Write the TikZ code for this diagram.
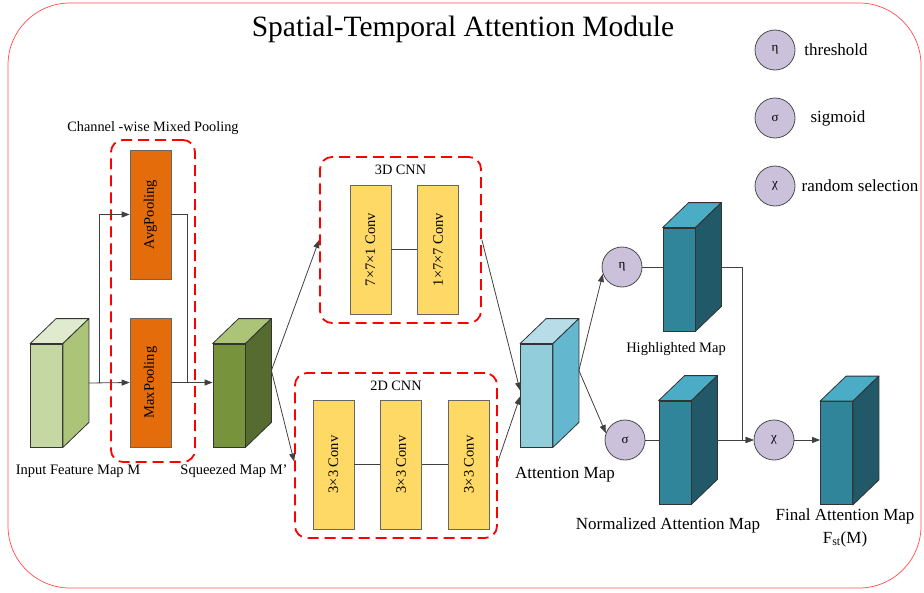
\documentclass[tikz,border=0pt]{standalone}
\usepackage{fontspec}
\setmainfont{Liberation Serif}
\usepackage{tikz}
\usetikzlibrary{arrows.meta,positioning}
\definecolor{PoolOrange}{RGB}{228,108,10}
\definecolor{ConvYellow}{RGB}{255,217,102}
\definecolor{OpLilac}{RGB}{204,193,218}
\definecolor{InFront}{RGB}{197,216,163}
\definecolor{InSide}{RGB}{172,196,120}
\definecolor{InTop}{RGB}{223,234,206}
\definecolor{SqFront}{RGB}{119,147,60}
\definecolor{SqSide}{RGB}{85,107,47}
\definecolor{AtFront}{RGB}{146,205,220}
\definecolor{AtSide}{RGB}{99,183,207}
\definecolor{AtTop}{RGB}{183,222,232}
\definecolor{TlFront}{RGB}{49,133,155}
\definecolor{TlSide}{RGB}{33,89,104}
\definecolor{TlTop}{RGB}{75,172,198}
% feature map as a box: name, x, y, front, side, top
\newcommand{\featmap}[6]{%
   \node[mapfront,fill=#4] (#1) at (#2,#3) {};
   \draw[mapedge,fill=#6] (#1.north west) -- ++(26,-25) -- ([shift={(26,-25)}]#1.north east) -- (#1.north east) -- cycle;
   \draw[mapedge,fill=#5] (#1.north east) -- ++(26,-25) -- ([shift={(26,-25)}]#1.south east) -- (#1.south east) -- cycle;
   \coordinate (#1-out) at ([shift={(26,-25)}]#1.east);
}

\begin{document}
\begin{tikzpicture}[x=1pt,y=-1pt,
mapfront/.style={rectangle,draw=black!80,line width=0.8pt,minimum width=32pt,minimum height=103pt,inner sep=0pt},
mapedge/.style={draw=black!80,line width=0.8pt,line join=round},
blk/.style={rectangle,draw=black!60,line width=0.7pt,minimum width=41pt,minimum height=129pt,inner sep=0pt,font=\fontsize{14.5}{16}\selectfont},
grpbox/.style={rectangle,draw=red,line width=1.8pt,dash pattern=on 11pt off 6pt,rounded corners=12pt,inner sep=0pt},
opnode/.style={circle,draw=black!70,line width=0.8pt,fill=OpLilac,minimum size=40pt,inner sep=0pt,font=\fontsize{13}{14}\selectfont},
conn/.style={draw=black!75,line width=0.8pt},
arr/.style={conn,-{Triangle[length=8pt,width=6pt]}},
lbl/.style={font=\fontsize{14.5}{16}\selectfont},
big/.style={font=\fontsize{17}{19}\selectfont},
grplbl/.style={font=\fontsize{14.3}{16}\selectfont}]
\useasboundingbox (0,0) rectangle (924,592);
\draw[red!70,line width=0.7pt,rounded corners=62pt] (8,3) rectangle (921,588);
\node[font=\fontsize{29.5}{33}\selectfont] (title) at (463,29) {Spatial-Temporal Attention Module};

% legend
\node[opnode] (lgeta) at (775,50) {η};
\node[opnode] (lgsig) at (775,118) {σ};
\node[opnode] (lgchi) at (775,186) {χ};
\node[big] (lteta) at (836,50) {threshold};
\node[big] (ltsig) at (838,118) {sigmoid};
\node[big] (ltchi) at (860,186) {random selection};

% pooling
\node[grpbox,minimum width=84pt,minimum height=322pt] (pool) at (153,301) {};
\node[grplbl,above=1pt of pool.north] (poollbl) {Channel -wise Mixed Pooling};
\node[blk,fill=PoolOrange] (avgpool) at (150.5,214.5) {\rotatebox{90}{AvgPooling}};
\node[blk,fill=PoolOrange] (maxpool) at (150.5,382.5) {\rotatebox{90}{MaxPooling}};

\featmap{inmap}{46.5}{395.5}{InFront}{InSide}{InTop}
\featmap{sqmap}{229}{395.5}{SqFront}{SqSide}{InSide}
\node[lbl] (inlbl) at (78,471) {Input Feature Map M};
\node[lbl] (sqlbl) at (234,471) {Squeezed Map M’};

\coordinate (inback) at ([shift={(26,-12.5)}]inmap.east);
\draw[arr] (inback) -- (maxpool.west);
\draw[arr] ([xshift=10pt]inback) |- (avgpool.west);
\draw[conn] (avgpool.east) -| ([xshift=16pt]maxpool.east);
\draw[arr] (maxpool.east) -- (maxpool.east -| sqmap.west);

% cnn branches
\node[grpbox,minimum width=161pt,minimum height=166pt] (cnn3d) at (400.5,240) {};
\node[grplbl,below=5pt of cnn3d.north] (lbl3d) {3D CNN};
\node[blk,fill=ConvYellow] (conv7a) at (370.5,249.5) {\rotatebox{90}{7×7×1 Conv}};
\node[blk,fill=ConvYellow,right=26pt of conv7a] (conv7b) {\rotatebox{90}{1×7×7 Conv}};
\draw[conn] (conv7a) -- (conv7b);

\node[grpbox,minimum width=202pt,minimum height=165pt] (cnn2d) at (396,455.5) {};
\node[grplbl,below=5pt of cnn2d.north] (lbl2d) {2D CNN};
\node[blk,fill=ConvYellow] (conv3a) at (333.5,464.5) {\rotatebox{90}{3×3 Conv}};
\node[blk,fill=ConvYellow,right=26pt of conv3a] (conv3b) {\rotatebox{90}{3×3 Conv}};
\node[blk,fill=ConvYellow,right=26pt of conv3b] (conv3c) {\rotatebox{90}{3×3 Conv}};
\foreach \a/\b in {conv3a/conv3b,conv3b/conv3c} {
   \draw[conn] (\a) -- (\b);
}

\draw[arr] (sqmap-out) -- (cnn3d.west);
\draw[arr] (sqmap-out) -- ([yshift=-6pt]cnn2d.west);

% attention
\featmap{attmap}{536.5}{395.5}{AtFront}{AtSide}{AtTop}
\node[big] (attlbl) at (565,475) {Attention Map};
\draw[arr] (cnn3d.east) -- ([yshift=5pt]attmap.west);
\draw[arr] ([yshift=-6pt]cnn2d.east) -- ([yshift=-1pt]attmap.west);

\node[opnode] (eta) at (622,267) {η};
\node[opnode] (sigma) at (625,440) {σ};
\draw[arr] (attmap-out) -- (eta.200);
\draw[arr] (attmap-out) -- (sigma.160);

\featmap{hlmap}{679}{279.5}{TlFront}{TlSide}{TlTop}
\featmap{nmmap}{675}{452.5}{TlFront}{TlSide}{TlTop}
\node[lbl] (hllbl) at (676,349) {Highlighted Map};
\node[big] (nmlbl) at (668,525) {Normalized Attention Map};
\draw[conn] (eta.east) -- (eta.east -| hlmap.west);
\draw[conn] (sigma.east) -- (sigma.east -| nmmap.west);

\node[opnode] (chi) at (774,440) {χ};
\draw[arr] (hlmap-out |- eta.east) -- ++(21,0) |- (chi.west);
\draw[arr] (nmmap-out |- chi.west) -- (chi.west);

\featmap{finmap}{836.5}{453}{TlFront}{TlSide}{TlTop}
\draw[arr] (chi.east) -- (chi.east -| finmap.west);
\node[big] (finlbl) at (845,516) {Final Attention Map};
\node[big] (fstlbl) at (845,539) {F\textsubscript{st}(M)};
\end{tikzpicture}
\end{document}
